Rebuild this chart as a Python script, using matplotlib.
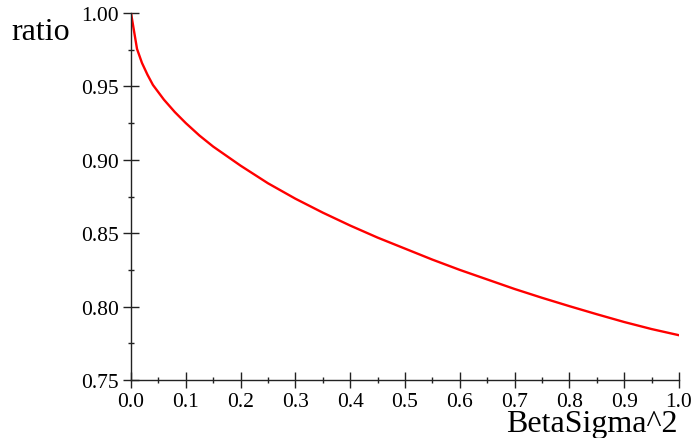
import numpy as np
import matplotlib.pyplot as plt
from matplotlib.ticker import MultipleLocator, FormatStrFormatter

# values
beta_sigma2 = [0.0, 0.011, 0.02, 0.03, 0.04, 0.05, 0.06, 0.08, 0.1, 0.125, 0.15,
               0.175, 0.2, 0.25, 0.3, 0.35, 0.4, 0.45, 0.5, 0.55, 0.6, 0.65,
               0.7, 0.75, 0.8, 0.85, 0.9, 0.95, 1.0]
ratio = [1.0, 0.9755, 0.966, 0.958, 0.951, 0.946, 0.941, 0.9325, 0.925, 0.9165, 0.909,
         0.9025, 0.896, 0.884, 0.8735, 0.864, 0.8552, 0.847, 0.8395, 0.832, 0.825,
         0.8185, 0.812, 0.806, 0.8003, 0.7948, 0.7895, 0.7847, 0.7805]

plt.rcParams['font.family'] = ['Liberation Serif', 'DejaVu Serif']

fig = plt.figure(figsize=(6.94, 4.39), dpi=100)
ax = fig.add_axes([131/694, 1-381/439, 548/694, 367/439])

ax.plot(beta_sigma2, ratio, color='red', lw=1.7)

ax.set_xlim(0, 1.0)
ax.set_ylim(0.75, 1.0)

for s in ['top', 'right']:
    ax.spines[s].set_visible(False)
for s in ['left', 'bottom']:
    ax.spines[s].set_linewidth(1.0)
    ax.spines[s].set_color('#222222')

ax.xaxis.set_major_locator(MultipleLocator(0.1))
ax.xaxis.set_minor_locator(MultipleLocator(0.05))
ax.yaxis.set_major_locator(MultipleLocator(0.05))
ax.yaxis.set_minor_locator(MultipleLocator(0.025))
ax.xaxis.set_major_formatter(FormatStrFormatter('%.1f'))
ax.yaxis.set_major_formatter(FormatStrFormatter('%.2f'))

ax.tick_params(which='major', direction='inout', length=11.5, width=1.0,
               labelsize=15.5, pad=3, color='#222222')
ax.tick_params(which='minor', direction='inout', length=5, width=1.0,
               color='#222222')

fig.text(41/694, 1-33/439, 'ratio', fontsize=23, ha='center', va='center')
fig.text(678/694, 1-425/439, 'BetaSigma^2', fontsize=23, ha='right', va='center')

plt.savefig('out.png', dpi=100)
